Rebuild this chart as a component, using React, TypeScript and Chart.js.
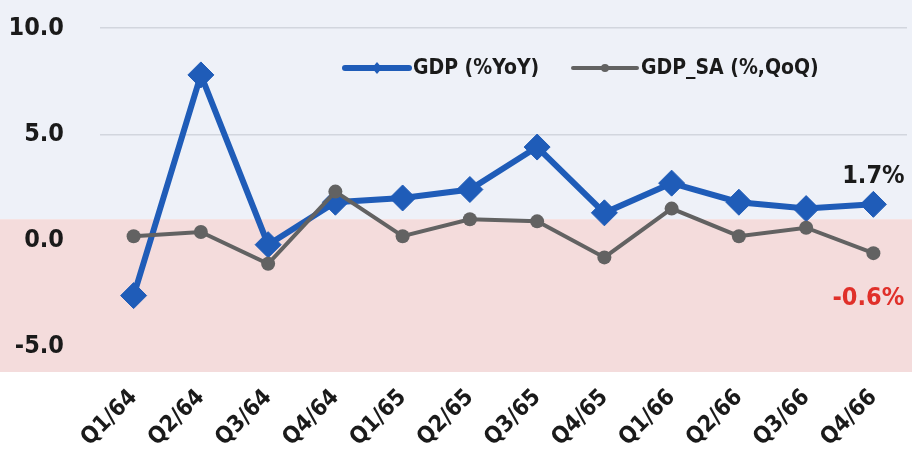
import React, { useEffect, useRef } from "react";
import { Chart, registerables } from "chart.js";

Chart.register(...registerables);

const categories = ["Q1/64", "Q2/64", "Q3/64", "Q4/64", "Q1/65", "Q2/65", "Q3/65", "Q4/65", "Q1/66", "Q2/66", "Q3/66", "Q4/66"];
const gdpYoY = [-2.6, 7.8, -0.2, 1.8, 2.0, 2.4, 4.4, 1.3, 2.7, 1.8, 1.5, 1.7];
const gdpSaQoQ = [0.2, 0.4, -1.1, 2.3, 0.2, 1.0, 0.9, -0.8, 1.5, 0.2, 0.6, -0.6];
const seriesLabels = ["GDP (%YoY)", "GDP_SA (%,QoQ)"];
const yTicks = [-5, 0, 5, 10];
const bandTop = 1.0;
const yMin = -6.2;
const yMax = 11;

const FONT = "'DejaVu Sans Condensed', 'DejaVu Sans', sans-serif";
const BLUE = "#1f5cb8";
const GRAY = "#626262";

const bgPlugin = {
  id: "bg",
  beforeDraw(chart: any) {
    const { ctx, chartArea, scales, width, height } = chart;
    const y = scales.y;
    const yb = y.getPixelForValue(bandTop);
    ctx.save();
    ctx.fillStyle = "#ffffff";
    ctx.fillRect(0, 0, width, height);
    ctx.fillStyle = "#eef1f8";
    ctx.fillRect(0, 0, width, yb);
    ctx.fillStyle = "#f4dcdc";
    ctx.fillRect(0, yb, width, chartArea.bottom - yb);
    ctx.restore();
  },
};

const overlayPlugin = {
  id: "overlay",
  afterDraw(chart: any) {
    const { ctx } = chart;
    ctx.save();
    const items = [
      { x: 345, color: BLUE, lw: 6, marker: "diamond", text: seriesLabels[0] },
      { x: 573, color: GRAY, lw: 4, marker: "circle", text: seriesLabels[1] },
    ];
    const ly = 68;
    ctx.font = `bold 21px ${FONT}`;
    ctx.textBaseline = "middle";
    ctx.textAlign = "left";
    for (const it of items) {
      ctx.strokeStyle = it.color;
      ctx.lineWidth = it.lw;
      ctx.lineCap = "round";
      ctx.beginPath();
      ctx.moveTo(it.x, ly);
      ctx.lineTo(it.x + 64, ly);
      ctx.stroke();
      ctx.fillStyle = it.color;
      ctx.beginPath();
      if (it.marker === "diamond") {
        ctx.moveTo(it.x + 32, ly - 6);
        ctx.lineTo(it.x + 37, ly);
        ctx.lineTo(it.x + 32, ly + 6);
        ctx.lineTo(it.x + 27, ly);
        ctx.closePath();
      } else {
        ctx.arc(it.x + 32, ly, 4, 0, Math.PI * 2);
      }
      ctx.fill();
      ctx.fillStyle = "#1a1a1a";
      ctx.fillText(it.text, it.x + 68, ly + 1);
    }
    const m0 = chart.getDatasetMeta(0);
    const m1 = chart.getDatasetMeta(1);
    const last = categories.length - 1;
    const p0 = m0.data[last];
    const p1 = m1.data[last];
    ctx.font = `bold 25px ${FONT}`;
    ctx.textAlign = "center";
    ctx.fillStyle = "#1a1a1a";
    ctx.fillText(gdpYoY[last].toFixed(1) + "%", p0.x, p0.y - 28);
    ctx.fillStyle = "#e0302a";
    ctx.fillText(gdpSaQoQ[last].toFixed(1) + "%", p1.x - 5, p1.y + 45);
    ctx.restore();
  },
};

export default function App() {
  const ref = useRef<HTMLCanvasElement | null>(null);
  useEffect(() => {
    if (!ref.current) return;
    const chart = new Chart(ref.current, {
      type: "line",
      data: {
        labels: categories,
        datasets: [
          {
            label: seriesLabels[0],
            data: gdpYoY,
            borderColor: BLUE,
            backgroundColor: BLUE,
            borderWidth: 6,
            pointStyle: "rectRot",
            pointRadius: 13,
            pointBorderWidth: 1,
            pointBackgroundColor: BLUE,
            pointBorderColor: BLUE,
            tension: 0,
            order: 2,
            clip: false,
          },
          {
            label: seriesLabels[1],
            data: gdpSaQoQ,
            borderColor: GRAY,
            backgroundColor: GRAY,
            borderWidth: 4,
            pointStyle: "circle",
            pointRadius: 7,
            pointBorderWidth: 0,
            pointBackgroundColor: GRAY,
            tension: 0,
            order: 1,
            clip: false,
          },
        ],
      },
      options: {
        responsive: false,
        animation: false,
        devicePixelRatio: 1,
        layout: { autoPadding: false, padding: { top: 7, right: 5, left: 0, bottom: 0 } },
        plugins: {
          legend: { display: false },
          tooltip: { enabled: false },
        },
        scales: {
          x: {
            offset: true,
            grid: { display: false },
            border: { display: false },
            ticks: {
              autoSkip: false,
              maxRotation: 45,
              minRotation: 45,
              padding: 4,
              color: "#1a1a1a",
              font: { family: FONT, size: 23, weight: "bold" },
            },
            afterFit(scale: any) {
              scale.height = 78;
              scale.paddingTop = 0;
            },
          },
          y: {
            min: yMin,
            max: yMax,
            afterBuildTicks(scale: any) {
              scale.ticks = yTicks.map((v) => ({ value: v }));
            },
            grid: {
              drawTicks: false,
              lineWidth: 1.5,
              color: (c: any) => (c.tick && c.tick.value > bandTop ? "#d2d6de" : "rgba(0,0,0,0)"),
            },
            border: { display: false },
            ticks: {
              padding: 36,
              color: "#1a1a1a",
              font: { family: FONT, size: 25, weight: "bold" },
              callback: (v: any) => Number(v).toFixed(1),
            },
            afterFit(scale: any) {
              scale.width = 100;
              scale.paddingTop = 0;
              scale.paddingBottom = 0;
            },
          },
        },
      },
      plugins: [bgPlugin, overlayPlugin],
    });
    return () => chart.destroy();
  }, []);
  return (
    <div style={{ position: "absolute", left: 0, top: 0, width: 912, height: 450 }}>
      <canvas ref={ref} width={912} height={450} style={{ display: "block" }} />
    </div>
  );
}
